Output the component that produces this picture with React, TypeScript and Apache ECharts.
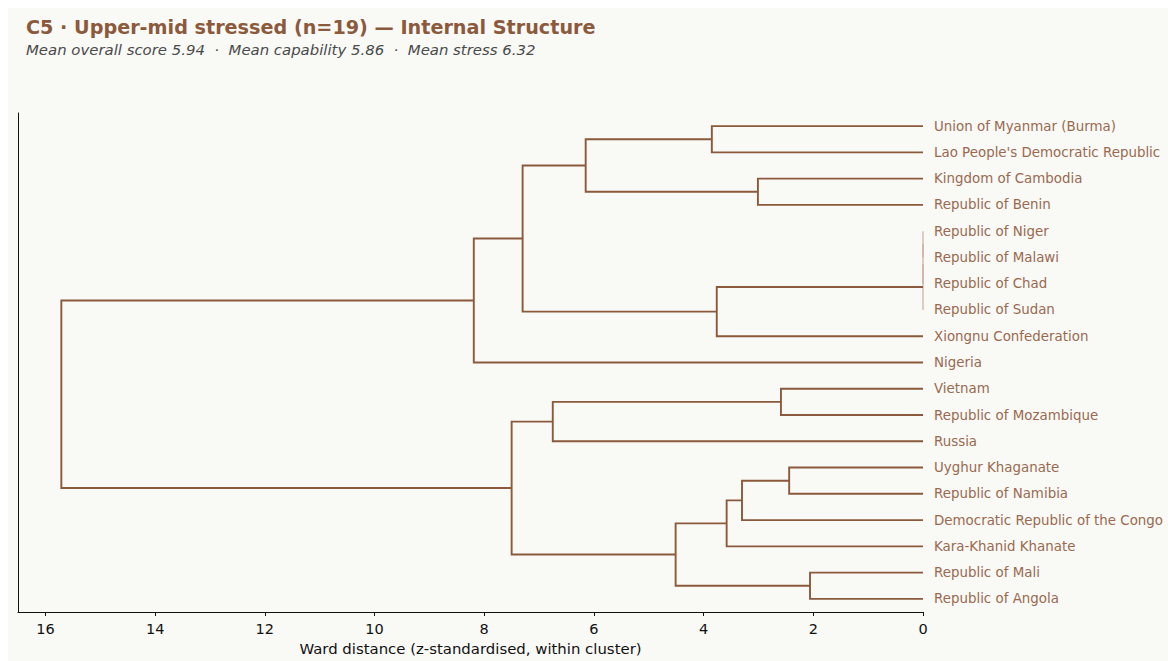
import React, { useEffect, useRef } from "react";
import * as echarts from "echarts";

const titleText = "C5 · Upper-mid stressed (n=19) — Internal Structure";
const subtitleText = "Mean overall score 5.94  ·  Mean capability 5.86  ·  Mean stress 6.32";
const xAxisName = "Ward distance (z-standardised, within cluster)";

// leaves, top to bottom
const leaves = [
  "Union of Myanmar (Burma)",
  "Lao People's Democratic Republic",
  "Kingdom of Cambodia",
  "Republic of Benin",
  "Republic of Niger",
  "Republic of Malawi",
  "Republic of Chad",
  "Republic of Sudan",
  "Xiongnu Confederation",
  "Nigeria",
  "Vietnam",
  "Republic of Mozambique",
  "Russia",
  "Uyghur Khaganate",
  "Republic of Namibia",
  "Democratic Republic of the Congo",
  "Kara-Khanid Khanate",
  "Republic of Mali",
  "Republic of Angola",
];

// linkage: [childA, childB, distance]; node ids >= 19 refer to earlier merges (19 + index)
const merges: [number, number, number][] = [
  [4, 5, 0], // 19
  [19, 6, 0], // 20
  [20, 7, 0], // 21
  [17, 18, 2.06], // 22
  [13, 14, 2.44], // 23
  [10, 11, 2.59], // 24
  [2, 3, 3.01], // 25
  [23, 15, 3.3], // 26
  [26, 16, 3.58], // 27
  [21, 8, 3.76], // 28
  [0, 1, 3.85], // 29
  [27, 22, 4.51], // 30
  [29, 25, 6.15], // 31
  [24, 12, 6.75], // 32
  [31, 28, 7.3], // 33
  [32, 30, 7.5], // 34
  [33, 9, 8.19], // 35
  [35, 34, 15.71], // 36
];

const xTicks = [0, 2, 4, 6, 8, 10, 12, 14, 16];
const xMax = 16.5;

const LINE = "#8b5a3c";
const LINE_ZERO = "#c6a896";
const LABEL = "#9a6a4f";
const BG = "#f9f9f6";
const FONT = "DejaVu Sans";

export default function App() {
  const ref = useRef<HTMLDivElement>(null);

  useEffect(() => {
    document.body.style.margin = "0";
    document.documentElement.style.overflow = "hidden";
    if (!ref.current) return;
    const chart = echarts.init(ref.current, undefined, { renderer: "svg" });

    // compute node positions
    const nodeY: number[] = leaves.map((_, i) => i);
    const nodeH: number[] = leaves.map(() => 0);
    const links: number[][] = [];
    merges.forEach(([a, b, d]) => {
      const ya = nodeY[a];
      const yb = nodeY[b];
      links.push([nodeH[a], ya, d, yb, nodeH[b], d === 0 ? 1 : 0]);
      nodeY.push((ya + yb) / 2);
      nodeH.push(d);
    });

    chart.setOption({
      animation: false,
      backgroundColor: BG,
      title: {
        text: titleText,
        subtext: subtitleText,
        left: 18,
        top: 10,
        padding: 0,
        itemGap: 5,
        textStyle: {
          fontFamily: FONT,
          fontSize: 19.2,
          fontWeight: "bold",
          color: LINE,
        },
        subtextStyle: {
          fontFamily: FONT,
          fontSize: 14.9,
          fontStyle: "italic",
          color: "#4a4a4a",
        },
      },
      grid: { left: 10, right: 245, top: 105, bottom: 46 },
      xAxis: {
        type: "value",
        inverse: true,
        min: 0,
        max: xMax,
        name: xAxisName,
        nameLocation: "middle",
        nameGap: 29,
        nameTextStyle: { fontFamily: FONT, fontSize: 14.9, color: "#111" },
        axisLine: { show: true, onZero: false, lineStyle: { color: "#111", width: 1 } },
        axisTick: { show: true, length: 4, customValues: xTicks, lineStyle: { color: "#111" } },
        axisLabel: {
          customValues: xTicks,
          margin: 9,
          fontFamily: FONT,
          fontSize: 14.5,
          color: "#111",
        },
        splitLine: { show: false },
      },
      yAxis: [
        {
          type: "value",
          inverse: true,
          min: -0.5,
          max: leaves.length - 0.5,
          position: "left",
          axisLine: { show: true, onZero: false, lineStyle: { color: "#111", width: 1 } },
          axisTick: { show: false },
          axisLabel: { show: false },
          splitLine: { show: false },
        },
        {
          type: "category",
          inverse: true,
          data: leaves,
          position: "right",
          axisLine: { show: false, onZero: false },
          axisTick: { show: false },
          axisLabel: {
            margin: 11,
            fontFamily: FONT,
            fontSize: 13.4,
            color: LABEL,
          },
          splitLine: { show: false },
        },
      ],
      series: [
        {
          type: "custom",
          xAxisIndex: 0,
          yAxisIndex: 0,
          clip: false,
          data: links,
          encode: { x: [0, 2, 4], y: [1, 3] },
          renderItem: (params: any, api: any) => {
            const x1 = api.value(0);
            const y1 = api.value(1);
            const d = api.value(2);
            const y2 = api.value(3);
            const x2 = api.value(4);
            const zero = api.value(5) === 1;
            const pts = [
              api.coord([x1, y1]),
              api.coord([d, y1]),
              api.coord([d, y2]),
              api.coord([x2, y2]),
            ];
            return {
              type: "polyline",
              shape: { points: pts },
              style: {
                stroke: zero ? LINE_ZERO : LINE,
                lineWidth: zero ? 1.1 : 1.9,
                fill: "none",
              },
            };
          },
        },
      ],
    });

    return () => chart.dispose();
  }, []);

  return (
    <div style={{ width: 1168, height: 661, background: "#ffffff", paddingTop: 8, paddingLeft: 8, boxSizing: "border-box" }}>
      <div ref={ref} style={{ width: 1160, height: 653 }} />
    </div>
  );
}
